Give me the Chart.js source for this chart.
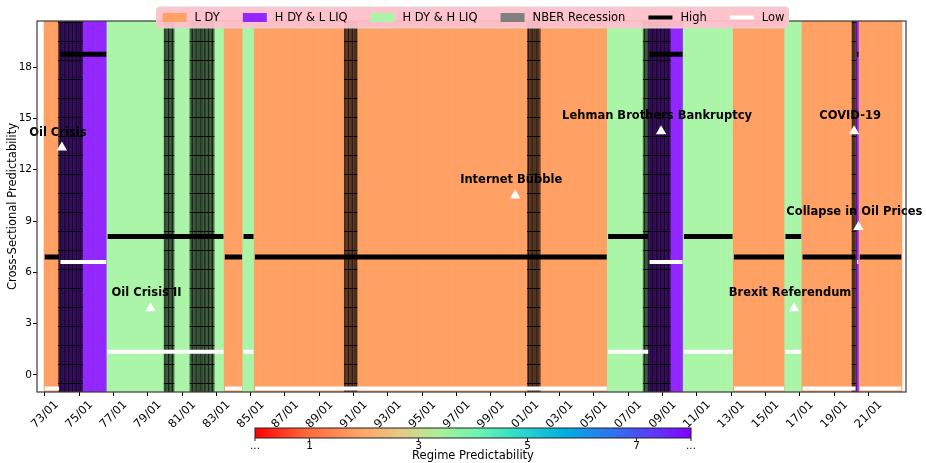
<!DOCTYPE html>
<html>
<head>
<meta charset="utf-8">
<script src="https://cdn.jsdelivr.net/npm/chart.js@4.4.0/dist/chart.umd.min.js"></script>
<style>
  html, body { margin: 0; padding: 0; background: #fff; }
  #wrap { width: 926px; height: 463px; }
</style>
</head>
<body>
<div id="wrap"><canvas id="myChart"></canvas></div>
<script>
// month index 0 = 1973/01, 600 months up to 2022/12
const nMonths = 600;

// regime runs (first month, last month, regime code)
const regimeStarts = [0, 11, 44, 126, 139, 147, 394, 423, 447, 482, 518, 530, 568, 570];
const regimeEnds   = [10, 43, 125, 138, 146, 393, 422, 446, 481, 517, 529, 567, 569, 599];
const regimeCodes  = ['L', 'HL', 'HH', 'L', 'HH', 'L', 'HH', 'HL', 'HH', 'L', 'HH', 'L', 'HL', 'L'];

// NBER recessions (first month, last month)
const recessionStarts = [10, 84, 102, 210, 338, 419, 565];
const recessionEnds   = [26, 90, 118, 218, 346, 437, 567];

// high / low cross-sectional predictability per regime
const highLevel = { L: 6.9, HL: 18.75, HH: 8.1 };
const lowLevel  = { L: -0.8, HL: 6.6, HH: 1.35 };

// events
const eventNames  = ['Oil Crisis', 'Oil Crisis II', 'Internet Bubble', 'Lehman Brothers Bankruptcy', 'Brexit Referendum', 'COVID-19', 'Collapse in Oil Prices'];
const eventMonths = [12, 74, 329, 431, 524, 566, 569];
const eventValues = [13.3, 3.9, 10.5, 14.25, 3.9, 14.25, 8.65];

const tickLabels = ['73/01', '75/01', '77/01', '79/01', '81/01', '83/01', '85/01', '87/01', '89/01',
  '91/01', '93/01', '95/01', '97/01', '99/01', '01/01', '03/01', '05/01', '07/01', '09/01',
  '11/01', '13/01', '15/01', '17/01', '19/01', '21/01'];
const tickMonths = tickLabels.map((_, i) => i * 24);
const yTicks = [0, 3, 6, 9, 12, 15, 18];

const regimeColors = { L: '#ffa064', HL: '#9327ff', HH: '#abf5a8' };
const regimeNames = { L: 'L DY', HL: 'H DY & L LIQ', HH: 'H DY & H LIQ' };

const yMin = -1, yMax = 20.7;

// monthly regime
const regime = [];
regimeCodes.forEach((code, k) => {
  for (let m = regimeStarts[k]; m <= regimeEnds[k]; m++) regime[m] = code;
});

const regimeBars = regime.map((code, m) => ({ x: m, y: [yMin, yMax] }));
const regimeBarColors = regime.map(code => regimeColors[code]);

const recessionBars = [];
recessionStarts.forEach((s, k) => {
  for (let m = s; m <= recessionEnds[k]; m++) recessionBars.push({ x: m, y: [yMin, yMax] });
});

function stepLine(levels) {
  const pts = [];
  regimeCodes.forEach((code, k) => {
    for (let m = regimeStarts[k]; m <= regimeEnds[k]; m++) pts.push({ x: m, y: levels[code] });
    pts.push({ x: regimeEnds[k] + 0.5, y: null });
  });
  return pts;
}

const eventPoints = eventMonths.map((m, i) => ({ x: m, y: eventValues[i] }));

function hatchPattern() {
  const c = document.createElement('canvas');
  c.width = 4; c.height = 19;
  const g = c.getContext('2d');
  g.fillStyle = 'rgba(0,0,0,0.55)';
  g.fillRect(0, 0, 4, 19);
  g.fillStyle = 'rgba(0,0,0,0.4)';
  g.fillRect(0, 0, 1, 19);
  g.fillStyle = 'rgba(0,0,0,0.95)';
  g.fillRect(0, 3, 4, 1);
  return g.createPattern(c, 'repeat');
}

const FONT = 'DejaVu Sans';

const legendItems = [
  { label: regimeNames.L, kind: 'box', color: regimeColors.L },
  { label: regimeNames.HL, kind: 'box', color: regimeColors.HL },
  { label: regimeNames.HH, kind: 'box', color: regimeColors.HH },
  { label: 'NBER Recession', kind: 'box', color: '#808080' },
  { label: 'High', kind: 'line', color: '#000000' },
  { label: 'Low', kind: 'line', color: '#ffffff' }
];

const extras = {
  id: 'extras',
  afterDatasetsDraw(chart) {
    const ctx = chart.ctx;
    const xs = chart.scales.x, ys = chart.scales.y;
    ctx.save();
    ctx.font = 'bold 11.5px "' + FONT + '"';
    ctx.fillStyle = '#000';
    ctx.textAlign = 'center';
    ctx.textBaseline = 'middle';
    eventNames.forEach((name, i) => {
      const px = xs.getPixelForValue(eventMonths[i]);
      const py = ys.getPixelForValue(eventValues[i]);
      ctx.fillText(name, px - 4, py - 15);
    });
    ctx.restore();
  },
  afterDraw(chart) {
    const ctx = chart.ctx;
    const a = chart.chartArea;
    ctx.save();
    // frame
    ctx.strokeStyle = '#3a3a3a';
    ctx.lineWidth = 1.2;
    ctx.strokeRect(a.left, a.top, a.right - a.left, a.bottom - a.top);

    // legend
    ctx.font = '11.5px "' + FONT + '"';
    const patchW = 24, gapText = 8, gapItem = 23;
    const widths = legendItems.map(it => ctx.measureText(it.label).width);
    let total = 0;
    widths.forEach((w, i) => { total += patchW + gapText + w + (i < widths.length - 1 ? gapItem : 0); });
    const cx = (a.left + a.right) / 2 + 2;
    let x = cx - total / 2;
    const boxL = x - 6, boxR = x + total + 4, boxT = 7, boxB = 28;
    ctx.fillStyle = 'rgba(255,192,203,0.95)';
    ctx.strokeStyle = '#d6d6d6';
    ctx.lineWidth = 1;
    ctx.beginPath();
    ctx.roundRect(boxL, boxT, boxR - boxL, boxB - boxT, 3);
    ctx.fill();
    ctx.stroke();
    const midY = (boxT + boxB) / 2;
    ctx.textBaseline = 'middle';
    ctx.textAlign = 'left';
    legendItems.forEach((it, i) => {
      if (it.kind === 'box') {
        ctx.fillStyle = it.color;
        ctx.fillRect(x, midY - 4.5, patchW, 9);
      } else {
        ctx.strokeStyle = it.color;
        ctx.lineWidth = 4;
        ctx.beginPath();
        ctx.moveTo(x, midY);
        ctx.lineTo(x + patchW, midY);
        ctx.stroke();
      }
      ctx.fillStyle = '#000';
      ctx.fillText(it.label, x + patchW + gapText, midY + 0.5);
      x += patchW + gapText + widths[i] + gapItem;
    });

    // colorbar
    const cbL = 255, cbR = 691, cbT = 428, cbB = 438;
    const grad = ctx.createLinearGradient(cbL, 0, cbR, 0);
    [[0, '#ff0000'], [0.12, '#ff6a3c'], [0.24, '#ffa366'], [0.33, '#e8c882'], [0.42, '#aaf09a'],
     [0.51, '#6ef5ae'], [0.60, '#30dccb'], [0.71, '#00afe1'], [0.83, '#326ef0'], [0.97, '#7814ff'],
     [1, '#8000ff']].forEach(s => grad.addColorStop(s[0], s[1]));
    ctx.fillStyle = grad;
    ctx.fillRect(cbL, cbT, cbR - cbL, cbB - cbT);
    ctx.strokeStyle = '#222';
    ctx.lineWidth = 1;
    ctx.strokeRect(cbL, cbT, cbR - cbL, cbB - cbT);
    const cbLabels = ['...', '1', '3', '5', '7', '...'];
    const cbValues = [0, 1, 3, 5, 7, 8];
    ctx.font = '10.5px "' + FONT + '"';
    ctx.fillStyle = '#000';
    ctx.textAlign = 'center';
    cbValues.forEach((v, i) => {
      const px = cbL + (cbR - cbL) * v / 8;
      ctx.beginPath();
      ctx.moveTo(px, cbB);
      ctx.lineTo(px, cbB + 3);
      ctx.stroke();
      ctx.fillText(cbLabels[i], px, 446);
    });
    ctx.font = '11.5px "' + FONT + '"';
    ctx.fillText('Regime Predictability', (cbL + cbR) / 2, 456);
    ctx.restore();
  }
};

const ctx = document.getElementById('myChart');

new Chart(ctx, {
  type: 'bar',
  data: {
    datasets: [
      {
        type: 'scatter',
        data: eventPoints,
        pointStyle: 'triangle',
        pointRadius: 6,
        backgroundColor: '#ffffff',
        borderColor: '#ffffff',
        borderWidth: 0,
        order: 1
      },
      {
        type: 'line',
        label: 'High',
        data: stepLine(highLevel),
        borderColor: '#000000',
        borderWidth: 5,
        pointRadius: 0,
        borderCapStyle: 'butt',
        spanGaps: false,
        order: 2
      },
      {
        type: 'line',
        label: 'Low',
        data: stepLine(lowLevel),
        borderColor: '#ffffff',
        borderWidth: 4,
        pointRadius: 0,
        borderCapStyle: 'butt',
        spanGaps: false,
        order: 3
      },
      {
        label: 'NBER Recession',
        data: recessionBars,
        backgroundColor: hatchPattern(),
        borderWidth: 0,
        grouped: false,
        barPercentage: 1,
        categoryPercentage: 1,
        order: 4
      },
      {
        label: 'Regime',
        data: regimeBars,
        backgroundColor: regimeBarColors,
        borderWidth: 0,
        grouped: false,
        barPercentage: 1,
        categoryPercentage: 1,
        order: 5
      }
    ]
  },
  options: {
    responsive: true,
    maintainAspectRatio: false,
    animation: false,
    layout: { padding: { top: 21, right: 20, left: 0, bottom: 0 } },
    plugins: {
      legend: { display: false },
      tooltip: { enabled: false }
    },
    scales: {
      x: {
        type: 'linear',
        min: -5.4,
        max: 602.3,
        offset: false,
        afterBuildTicks(scale) { scale.ticks = tickMonths.map(v => ({ value: v })); },
        afterFit(scale) { scale.height = 71; },
        ticks: {
          autoSkip: false,
          minRotation: 45,
          maxRotation: 45,
          labelOffset: 12,
          padding: 2,
          color: '#000',
          font: { family: FONT, size: 11.5 },
          callback: (v) => tickLabels[tickMonths.indexOf(v)]
        },
        grid: { offset: false, drawOnChartArea: false, drawTicks: true, tickLength: 4, color: '#000' },
        border: { display: false }
      },
      y: {
        min: yMin,
        max: yMax,
        afterBuildTicks(scale) { scale.ticks = yTicks.map(v => ({ value: v })); },
        afterFit(scale) { scale.width = 37; },
        ticks: {
          padding: 1,
          color: '#000',
          font: { family: FONT, size: 10.5 }
        },
        grid: { drawOnChartArea: false, drawTicks: true, tickLength: 4, color: '#000' },
        border: { display: false },
        title: {
          display: true,
          text: 'Cross-Sectional Predictability',
          color: '#000',
          font: { family: FONT, size: 11.5 },
          padding: { top: 6, bottom: 0 }
        }
      }
    }
  },
  plugins: [extras]
});
</script>
</body>
</html>
